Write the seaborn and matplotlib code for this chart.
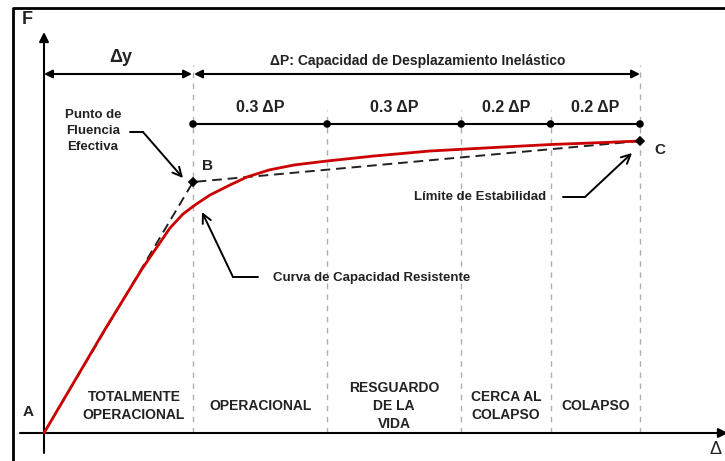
import numpy as np
import pandas as pd
import matplotlib.pyplot as plt
import seaborn as sns

# Capacity curve (displacement, force), origin at A
curve_d = [0, 30, 60, 98, 113, 126, 139, 151, 166, 186, 203, 225, 250,
           283, 330, 386, 450, 507, 560, 596]
curve_f = [0, 51, 102, 164, 186, 205, 219, 228, 238, 248, 256, 263, 268,
           272, 277, 282, 285.5, 288.5, 290.5, 292]

# Idealized bilinear: A -> B (yield) -> C (ultimate)
bilin_d = [0, 149, 596]
bilin_f = [0, 251, 292]
point_names = ["A", "B", "C"]

# Inelastic displacement split into performance levels
fractions = [0.3, 0.3, 0.2, 0.2]
frac_labels = ["0.3 ΔP", "0.3 ΔP", "0.2 ΔP", "0.2 ΔP"]
zones = ["TOTALMENTE\nOPERACIONAL", "OPERACIONAL", "RESGUARDO\nDE LA\nVIDA",
         "CERCA AL\nCOLAPSO", "COLAPSO"]

sns.set_style("white")
plt.rcParams["font.family"] = ["Liberation Sans", "DejaVu Sans"]

d_y = bilin_d[1]
d_p = bilin_d[2] - bilin_d[1]
bounds = [d_y] + list(d_y + d_p * np.cumsum(fractions))

fig = plt.figure(figsize=(7.25, 4.61), dpi=100)
ax = fig.add_axes([0, 0, 1, 1])

txt = dict(fontweight="bold", color="#222222")

# outer frame
ax.plot([-31, -31, 690], [-40, 425, 425], color="black", lw=2, clip_on=False)

# axes with arrows
ax.annotate("", xy=(0, 401), xytext=(0, -20), annotation_clip=False,
            arrowprops=dict(arrowstyle="-|>", color="black", lw=1.5, mutation_scale=14, shrinkA=0, shrinkB=0))
ax.annotate("", xy=(684, 0), xytext=(-24, 0), annotation_clip=False,
            arrowprops=dict(arrowstyle="-|>", color="black", lw=1.5, mutation_scale=14, shrinkA=0, shrinkB=0))
ax.text(-17, 413, "F", fontsize=13, ha="center", va="center", **txt)
ax.text(672, -16, "Δ", fontsize=13, ha="center", va="center", color="#222222")

# vertical dashed boundaries
for i, b in enumerate(bounds):
    top = 368 if i in (0, len(bounds) - 1) else 323
    ax.plot([b, b], [0, top], color="#b0b0b0", lw=1, ls=(0, (4, 4)), zorder=1)

# top dimension arrows
ax.annotate("", xy=(d_y - 1, 359), xytext=(0, 359),
            arrowprops=dict(arrowstyle="<|-|>", color="black", lw=1.5, mutation_scale=12, shrinkA=0, shrinkB=0))
ax.annotate("", xy=(bounds[-1], 359), xytext=(d_y + 1, 359),
            arrowprops=dict(arrowstyle="<|-|>", color="black", lw=1.5, mutation_scale=12, shrinkA=0, shrinkB=0))
ax.text(d_y / 2 + 2, 376, "Δy", fontsize=13, ha="center", va="center", **txt)
ax.text(d_y + d_p / 2 + 1, 372, "ΔP: Capacidad de Desplazamiento Inelástico",
        fontsize=10, ha="center", va="center", **txt)

# segment row
seg = pd.DataFrame({"d": bounds, "f": [309] * len(bounds)})
ax.plot([bounds[0], bounds[-1]], [309, 309], color="black", lw=1.5)
sns.scatterplot(data=seg, x="d", y="f", color="black", s=30, edgecolor="none", ax=ax, zorder=4)
for i, lab in enumerate(frac_labels):
    ax.text((bounds[i] + bounds[i + 1]) / 2, 325, lab, fontsize=11.5, ha="center", va="center", **txt)

# bilinear idealization and capacity curve
ax.plot(bilin_d, bilin_f, color="#222222", lw=1.4, ls=(0, (5, 3)), zorder=2)
cap = pd.DataFrame({"d": curve_d, "f": curve_f})
sns.lineplot(data=cap, x="d", y="f", color="#cc0000", lw=2, sort=False, ax=ax, zorder=3)
pts = pd.DataFrame({"d": bilin_d[1:], "f": bilin_f[1:]})
sns.scatterplot(data=pts, x="d", y="f", color="black", s=28, marker="D", edgecolor="none", ax=ax, zorder=5)

ax.text(-16, 21, point_names[0], fontsize=11, ha="center", va="center", **txt)
ax.text(d_y + 15, 267, point_names[1], fontsize=11, ha="center", va="center", **txt)
ax.text(bilin_d[2] + 20, 283, point_names[2], fontsize=11, ha="center", va="center", **txt)

# zone labels
centers = [(bounds[i] + bounds[i + 1]) / 2 for i in range(len(bounds) - 1)]
zone_x = [90] + centers
for x, z in zip(zone_x, zones):
    ax.text(x, 27, z, fontsize=10, ha="center", va="center", linespacing=1.35, **txt)

# callouts
arrow = dict(arrowstyle="->", color="black", lw=1.4, mutation_scale=16, shrinkA=0, shrinkB=0)
ax.text(49, 302, "Punto de\nFluencia\nEfectiva", fontsize=9.5, ha="center", va="center", linespacing=1.45, **txt)
ax.plot([86, 99], [301, 301], color="black", lw=1.4)
ax.annotate("", xy=(139, 255), xytext=(99, 301), arrowprops=arrow)

ax.text(229, 155, "Curva de Capacidad Resistente", fontsize=9.5, ha="left", va="center", **txt)
ax.plot([189, 214], [156, 156], color="black", lw=1.4)
ax.annotate("", xy=(158, 221), xytext=(189, 156), arrowprops=arrow)

ax.text(502, 236, "Límite de Estabilidad", fontsize=9.5, ha="right", va="center", **txt)
ax.plot([519, 541], [236, 236], color="black", lw=1.4)
ax.annotate("", xy=(588, 280), xytext=(541, 236), arrowprops=arrow)

ax.set_xlim(-44, 681)
ax.set_ylim(-28, 433)
ax.axis("off")

fig.savefig("out.png", dpi=100)
